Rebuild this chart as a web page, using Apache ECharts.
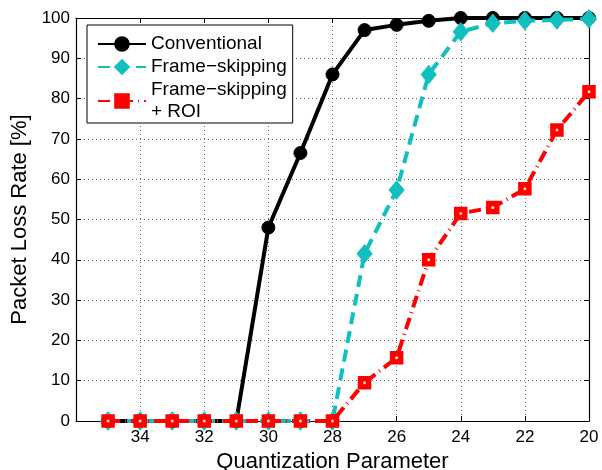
<!DOCTYPE html>
<html>
<head>
<meta charset="utf-8">
<script src="https://cdn.jsdelivr.net/npm/echarts@6/dist/echarts.min.js"></script>
<style>
  html, body { margin: 0; padding: 0; background: #fff; }
  #chart { width: 602px; height: 470px; }
</style>
</head>
<body>
<div id="chart"></div>
<script>
// quantization parameter (x) and packet loss rate [%] per scheme
const qp = [35, 34, 33, 32, 31, 30, 29, 28, 27, 26, 25, 24, 23, 22, 21, 20];
const conventional = [0, 0, 0, 0, 0, 48, 66.5, 86, 97, 98.3, 99.3, 100, 100, 100, 100, 100];
const frameSkipping = [0, 0, 0, 0, 0, 0, 0, 0, 41.5, 57.3, 86, 96.6, 98.7, 99.3, 99.5, 99.8];
const frameSkippingRoi = [0, 0, 0, 0, 0, 0, 0, 0, 9.5, 15.7, 40, 51.5, 53, 57.6, 72.2, 81.7];
const seriesNames = ['Conventional', 'Frame\u2212skipping', 'Frame\u2212skipping\n+ ROI'];

const font = 'Liberation Sans, Arial, Helvetica, sans-serif';
const pairs = arr => qp.map((q, i) => [q, arr[i]]);

const chart = echarts.init(document.getElementById('chart'));

const gridLine = { show: true, lineStyle: { color: '#666', width: 1, type: [1, 3] } };
const baseX = {
  type: 'value', min: 20, max: 36, interval: 2, inverse: true,
  axisLine: { show: true, onZero: false, lineStyle: { color: '#000', width: 1.2 } },
  axisTick: { show: true, inside: true, length: 5, lineStyle: { color: '#000' } }
};
const baseY = {
  type: 'value', min: 0, max: 100, interval: 10,
  axisLine: { show: true, onZero: false, lineStyle: { color: '#000', width: 1.2 } },
  axisTick: { show: true, inside: true, length: 5, lineStyle: { color: '#000' } }
};

const option = {
  backgroundColor: '#fff',
  animation: false,
  textStyle: { fontFamily: font },
  grid: { left: 76, right: 13, top: 18, bottom: 49, outerBoundsMode: 'none' },
  legend: {
    data: seriesNames,
    orient: 'vertical',
    left: 87, top: 25,
    padding: [8, 6, 0, 10],
    itemGap: 1,
    itemWidth: 48, itemHeight: 17,
    borderColor: '#000', borderWidth: 1,
    backgroundColor: '#fff',
    textStyle: { fontSize: 19, lineHeight: 22, color: '#000', fontFamily: font }
  },
  xAxis: [
    Object.assign({}, baseX, {
      position: 'bottom',
      name: 'Quantization Parameter',
      nameLocation: 'middle', nameGap: 27,
      nameTextStyle: { fontSize: 22, color: '#000', fontFamily: font },
      axisLabel: {
        fontSize: 17, color: '#000', margin: 8, fontFamily: font,
        formatter: v => (v === 36 ? '' : String(v))
      },
      splitLine: gridLine
    }),
    Object.assign({}, baseX, {
      position: 'top',
      axisLabel: { show: false },
      splitLine: { show: false }
    })
  ],
  yAxis: [
    Object.assign({}, baseY, {
      position: 'left',
      name: 'Packet Loss Rate [%]',
      nameLocation: 'middle', nameGap: 40,
      nameTextStyle: { fontSize: 22, color: '#000', fontFamily: font },
      axisLabel: { fontSize: 17, color: '#000', margin: 6, fontFamily: font },
      splitLine: gridLine
    }),
    Object.assign({}, baseY, {
      position: 'right',
      axisLabel: { show: false },
      splitLine: { show: false }
    })
  ],
  series: [
    {
      name: seriesNames[0],
      type: 'line',
      data: pairs(conventional),
      clip: false,
      symbol: 'circle', symbolSize: 13,
      lineStyle: { color: '#000', width: 4, type: 'solid' },
      itemStyle: { color: '#000', borderColor: '#000', borderWidth: 1 },
      z: 2
    },
    {
      name: seriesNames[1],
      type: 'line',
      data: pairs(frameSkipping),
      clip: false,
      symbol: 'diamond', symbolSize: [15, 18],
      lineStyle: { color: '#12BFBF', width: 4, type: [12, 7] },
      itemStyle: { color: '#12BFBF', borderColor: '#12BFBF', borderWidth: 1 },
      z: 3
    },
    {
      name: seriesNames[2],
      type: 'line',
      data: pairs(frameSkippingRoi),
      clip: false,
      symbol: 'rect', symbolSize: 12,
      lineStyle: { color: '#FF0000', width: 4, type: [12, 5, 1, 5] },
      itemStyle: { color: '#FF0000', borderColor: '#FF0000', borderWidth: 1.5 },
      z: 4
    },
    {
      // small white centre dot on the red squares
      name: 'roi-dot',
      type: 'scatter',
      data: pairs(frameSkippingRoi),
      symbol: 'circle', symbolSize: 3,
      itemStyle: { color: '#fff' },
      silent: true,
      z: 5
    }
  ]
};

chart.setOption(option);
</script>
</body>
</html>
